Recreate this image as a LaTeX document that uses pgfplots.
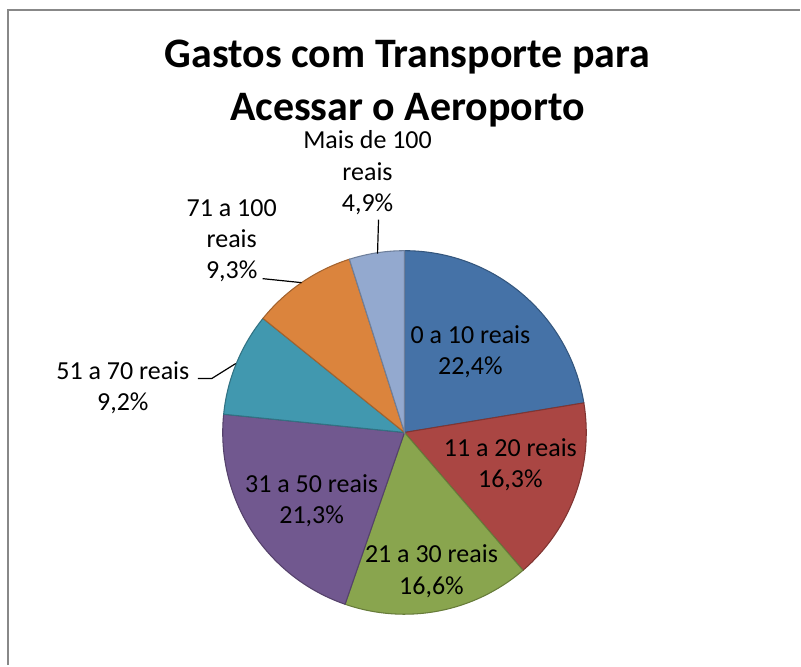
\documentclass[border=0pt]{standalone}
\usepackage{pgfplots}
\pgfplotsset{compat=1.18}
\usepackage{fontspec}
\setmainfont{Carlito}
\definecolor{c1}{HTML}{4572A7}
\definecolor{c2}{HTML}{AA4643}
\definecolor{c3}{HTML}{89A54E}
\definecolor{c4}{HTML}{71588F}
\definecolor{c5}{HTML}{4198AF}
\definecolor{c6}{HTML}{DB843D}
\definecolor{c7}{HTML}{93A9CF}
\definecolor{frame}{HTML}{888888}
\begin{document}
\begin{tikzpicture}
\begin{axis}[x=0.75pt,y=0.75pt,xmin=0,xmax=801,ymin=0,ymax=666,y dir=reverse,
  hide axis,clip=false]
\path (axis cs:0,0) rectangle (axis cs:801,666);
\draw[frame,line width=1.5pt] (axis cs:8,666) -- (axis cs:8,10) -- (axis cs:801,10);
% Pie: values (percent) 22.4, 16.3, 16.6, 21.3, 9.2, 9.3, 4.9 ; start at 90 deg, clockwise
\def\R{136.5pt}
\fill[c1,draw=c1!75!black,line width=0.8pt] (axis cs:405,433) -- ++(90:\R) arc[start angle=90,end angle={90-3.6*(22.4)},radius=\R] -- cycle;
\fill[c2,draw=c2!75!black,line width=0.8pt] (axis cs:405,433) -- ++({90-3.6*(22.4)}:\R) arc[start angle={90-3.6*(22.4)},end angle={90-3.6*(22.4+16.3)},radius=\R] -- cycle;
\fill[c3,draw=c3!75!black,line width=0.8pt] (axis cs:405,433) -- ++({90-3.6*(22.4+16.3)}:\R) arc[start angle={90-3.6*(22.4+16.3)},end angle={90-3.6*(22.4+16.3+16.6)},radius=\R] -- cycle;
\fill[c4,draw=c4!75!black,line width=0.8pt] (axis cs:405,433) -- ++({90-3.6*(22.4+16.3+16.6)}:\R) arc[start angle={90-3.6*(22.4+16.3+16.6)},end angle={90-3.6*(22.4+16.3+16.6+21.3)},radius=\R] -- cycle;
\fill[c5,draw=c5!75!black,line width=0.8pt] (axis cs:405,433) -- ++({90-3.6*(22.4+16.3+16.6+21.3)}:\R) arc[start angle={90-3.6*(22.4+16.3+16.6+21.3)},end angle={90-3.6*(22.4+16.3+16.6+21.3+9.2)},radius=\R] -- cycle;
\fill[c6,draw=c6!75!black,line width=0.8pt] (axis cs:405,433) -- ++({90-3.6*(22.4+16.3+16.6+21.3+9.2)}:\R) arc[start angle={90-3.6*(22.4+16.3+16.6+21.3+9.2)},end angle={90-3.6*(22.4+16.3+16.6+21.3+9.2+9.3)},radius=\R] -- cycle;
\fill[c7,draw=c7!75!black,line width=0.8pt] (axis cs:405,433) -- ++({90-3.6*(22.4+16.3+16.6+21.3+9.2+9.3)}:\R) arc[start angle={90-3.6*(22.4+16.3+16.6+21.3+9.2+9.3)},end angle={90-3.6*(100)},radius=\R] -- cycle;
% leader lines
\draw[black,line width=0.9pt] (axis cs:198,379) -- (axis cs:212,379) -- (axis cs:236,364);
\draw[black,line width=0.9pt] (axis cs:263,279) -- (axis cs:302,283);
\draw[black,line width=0.9pt] (axis cs:379,220) -- (axis cs:378,254);
% title
\node[align=center,font=\fontsize{31.5}{39.75}\selectfont\bfseries] at (axis cs:408,84) {Gastos com Transporte para\\Acessar o Aeroporto};
% labels
\tikzset{lbl/.style={align=center,font=\fontsize{19.5}{23.5}\selectfont,inner sep=0pt}}
\node[lbl] at (axis cs:471,352) {0 a 10 reais\\22,4\%};
\node[lbl] at (axis cs:511,465) {11 a 20 reais\\16,3\%};
\node[lbl] at (axis cs:432,572) {21 a 30 reais\\16,6\%};
\node[lbl] at (axis cs:312,501) {31 a 50 reais\\21,3\%};
\node[lbl] at (axis cs:123,388) {51 a 70 reais\\9,2\%};
\node[lbl] at (axis cs:232,241) {71 a 100\\reais\\9,3\%};
\node[lbl] at (axis cs:368,173) {Mais de 100\\reais\\4,9\%};
\end{axis}
\end{tikzpicture}
\end{document}
